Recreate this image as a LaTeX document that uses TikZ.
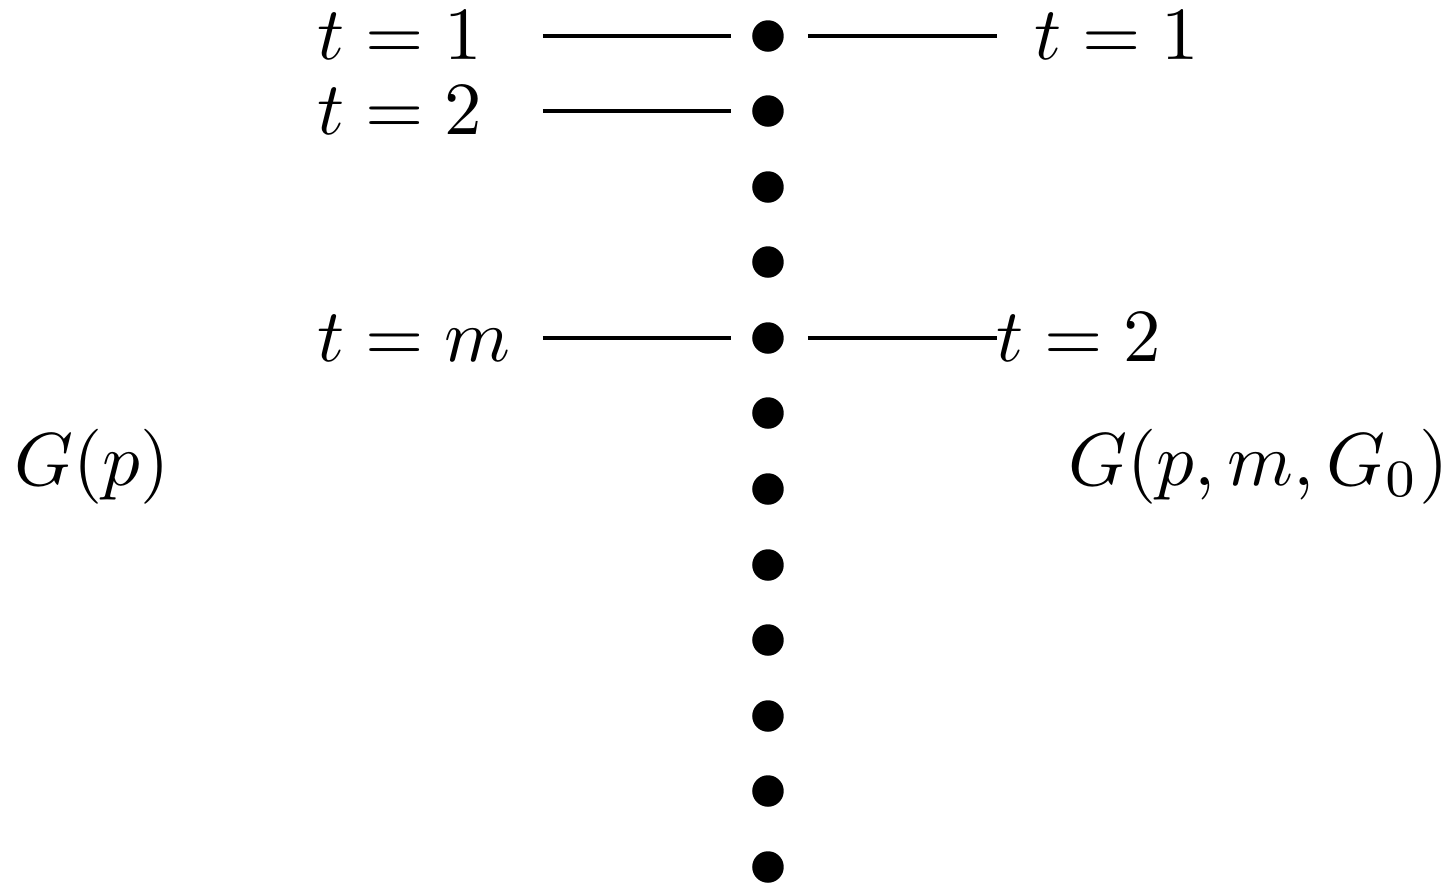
\documentclass[tikz,border=0pt]{standalone}
\begin{document}
\begin{tikzpicture}[x=0.1333pt,y=-0.1333pt,
  dot/.style={circle,fill=black,inner sep=0pt,minimum size=4.2pt},
  lbl/.style={inner sep=0pt,anchor=base west},
  conn/.style={line width=0.45pt}]
\useasboundingbox (0,0) rectangle (1447,884);
\foreach \i/\y in {1/36,2/111,3/187,4/262,5/338,6/413,7/489,8/565,9/640,10/716,11/791,12/867}
  \node[dot] (d\i) at (768,\y) {};
\node[lbl] (L1) at (316,59) {$t=1$};
\node[lbl] (L2) at (316,134) {$t=2$};
\node[lbl] (Lm) at (316,361) {$t=m$};
\node[lbl] (R1) at (1033,59) {$t=1$};
\node[lbl] (R2) at (995,361) {$t=2$};
\node[lbl] (Gp) at (13,485) {$G(p)$};
\node[lbl] (Gpm) at (1067,485) {$G(p,m,G_0)$};
\coordinate (a1) at (543,36); \coordinate (b1) at (731,36);
\coordinate (a2) at (543,111); \coordinate (b2) at (731,111);
\coordinate (am) at (543,338); \coordinate (bm) at (731,338);
\coordinate (c1) at (808,36); \coordinate (e1) at (997,36);
\coordinate (c2) at (808,338); \coordinate (e2) at (997,338);
\draw[conn] (a1) -- (b1);
\draw[conn] (a2) -- (b2);
\draw[conn] (am) -- (bm);
\draw[conn] (c1) -- (e1);
\draw[conn] (c2) -- (e2);
\end{tikzpicture}
\end{document}
